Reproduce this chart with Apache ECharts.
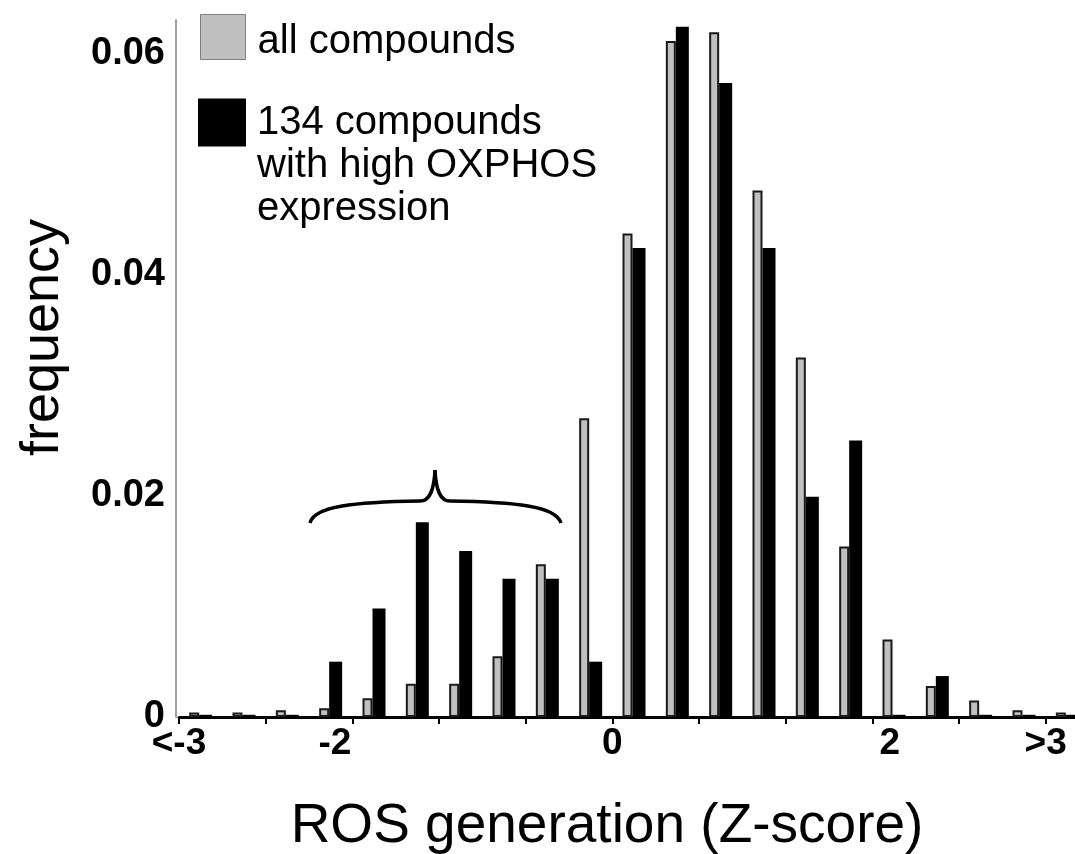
<!DOCTYPE html>
<html>
<head>
<meta charset="utf-8">
<script src="https://cdn.jsdelivr.net/npm/echarts@6/dist/echarts.min.js"></script>
<style>
  html, body { margin: 0; padding: 0; background: #fff; }
  #chart { width: 1075px; height: 854px; }
</style>
</head>
<body>
<div id="chart"></div>
<script>
// histogram bins (21 bins, ~0.31 z-units wide, first bin is "<-3", last ">3")
const binNames = ['<-3', '-2.81', '-2.5', '-2.19', '-1.88', '-1.56', '-1.25', '-0.94', '-0.63', '-0.31',
  '0', '0.31', '0.63', '0.94', '1.25', '1.56', '1.88', '2.19', '2.5', '2.81', '>3'];
const allCompounds = [0.0004, 0.0004, 0.0006, 0.0008, 0.0017, 0.0030, 0.0030, 0.0055, 0.0138, 0.0270,
  0.0437, 0.0611, 0.0619, 0.0476, 0.0325, 0.0154, 0.0070, 0.0028, 0.0015, 0.0006, 0.0004];
const highOxphos = [0.0002, 0.0002, 0.0002, 0.0050, 0.0098, 0.0176, 0.0150, 0.0125, 0.0125, 0.0050,
  0.0424, 0.0624, 0.0573, 0.0424, 0.0199, 0.0250, 0.0002, 0.0037, 0.0002, 0.0002, 0.0002];

// z-score axis: ticks at every second bin edge, labels at -3(edge), -2, 0, 2, 3(edge)
const zMin = -3.125;
const zMax = 3.4375;
const zTicks = [-3.125, -2.5, -1.875, -1.25, -0.625, 0, 0.625, 1.25, 1.875, 2.5, 3.125];
const zLabelValues = [-3.125, -2, 0, 2, 3.125];
const zLabelText = ['<-3', '-2', '0', '2', '>3'];
const yLabelValues = [0, 0.02, 0.04, 0.06];

const FONT = '"Liberation Sans", Arial, Helvetica, sans-serif';
const NAME_ALL = 'all compounds';
const NAME_HIGH = '134 compounds with high OXPHOS expression';

const chart = echarts.init(document.getElementById('chart'));

// curly brace pieces (annotation)
const braceStyle = { fill: 'none', stroke: '#000', lineWidth: 3.5 };
const brace = [
  [310, 523, 420, 501, 314, 506, 355, 502],
  [420, 501, 435, 470, 430, 501, 434, 490],
  [435, 470, 450, 501, 436, 490, 440, 501],
  [450, 501, 561, 523, 515, 502, 556, 506]
].map(p => ({
  type: 'bezierCurve',
  shape: { x1: p[0], y1: p[1], x2: p[2], y2: p[3], cpx1: p[4], cpy1: p[5], cpx2: p[6], cpy2: p[7] },
  style: braceStyle
}));

const option = {
  backgroundColor: '#fff',
  animation: false,
  textStyle: { fontFamily: FONT },
  grid: { left: 179, right: -14, top: 20, bottom: 137, outerBoundsMode: 'none' },
  legend: [
    {
      data: [NAME_ALL],
      left: 195,
      top: 9,
      itemWidth: 45,
      itemHeight: 45,
      icon: 'rect',
      itemStyle: { borderColor: '#808080', borderWidth: 1 },
      formatter: name => '{t|' + name + '}',
      textStyle: {
        fontFamily: FONT, fontSize: 40, color: '#000', padding: [0, 0, 0, 7],
        rich: { t: { fontFamily: FONT, fontSize: 40, color: '#000', padding: [10, 0, 0, 0] } }
      }
    },
    {
      data: [NAME_HIGH],
      left: 193,
      top: 10,
      itemWidth: 48,
      itemHeight: 48,
      icon: 'rect',
      // two empty leading lines so the first text line sits level with the square
      formatter: () => '\n\n134 compounds\nwith high OXPHOS\nexpression',
      textStyle: { fontFamily: FONT, fontSize: 40, lineHeight: 43, color: '#000', padding: [0, 0, 0, 6] }
    }
  ],
  xAxis: [
    {
      type: 'value',
      min: zMin,
      max: zMax,
      position: 'bottom',
      axisLine: { show: true, lineStyle: { color: '#000', width: 3 } },
      axisTick: { show: true, customValues: zTicks, length: 7, lineStyle: { color: '#000', width: 2 } },
      axisLabel: {
        customValues: zLabelValues,
        formatter: v => zLabelText[zLabelValues.indexOf(v)],
        fontFamily: FONT,
        fontSize: 37,
        fontWeight: 'bold',
        color: '#000',
        margin: 8
      },
      splitLine: { show: false },
      name: 'ROS generation (Z-score)',
      nameLocation: 'middle',
      nameGap: 82,
      nameTextStyle: { fontFamily: FONT, fontSize: 55, color: '#000', padding: [0, 54, 0, 0] }
    },
    {
      type: 'category',
      data: binNames,
      show: false,
      boundaryGap: true
    }
  ],
  yAxis: {
    type: 'value',
    min: 0,
    max: 0.063,
    offset: 3,
    axisLine: { show: true, onZero: false, lineStyle: { color: '#a0a0a0', width: 2 } },
    axisTick: { show: false },
    splitLine: { show: false },
    axisLabel: {
      customValues: yLabelValues,
      formatter: v => (v === 0 ? '0' : v.toFixed(2)),
      fontFamily: FONT,
      fontSize: 38,
      fontWeight: 'bold',
      color: '#000',
      margin: 11
    },
    name: 'frequency',
    nameLocation: 'middle',
    nameRotate: 90,
    nameGap: 106,
    nameTextStyle: { fontFamily: FONT, fontSize: 54, color: '#000', padding: [0, 0, 0, 62] }
  },
  series: [
    {
      name: NAME_ALL,
      type: 'bar',
      xAxisIndex: 1,
      data: allCompounds,
      barWidth: 10,
      barGap: '0%',
      itemStyle: { color: '#c0c0c0', borderColor: '#1a1a1a', borderWidth: 2 }
    },
    {
      name: NAME_HIGH,
      type: 'bar',
      xAxisIndex: 1,
      data: highOxphos,
      barWidth: 13,
      barGap: '0%',
      itemStyle: { color: '#000' }
    }
  ],
  graphic: brace
};

chart.setOption(option);
</script>
</body>
</html>
